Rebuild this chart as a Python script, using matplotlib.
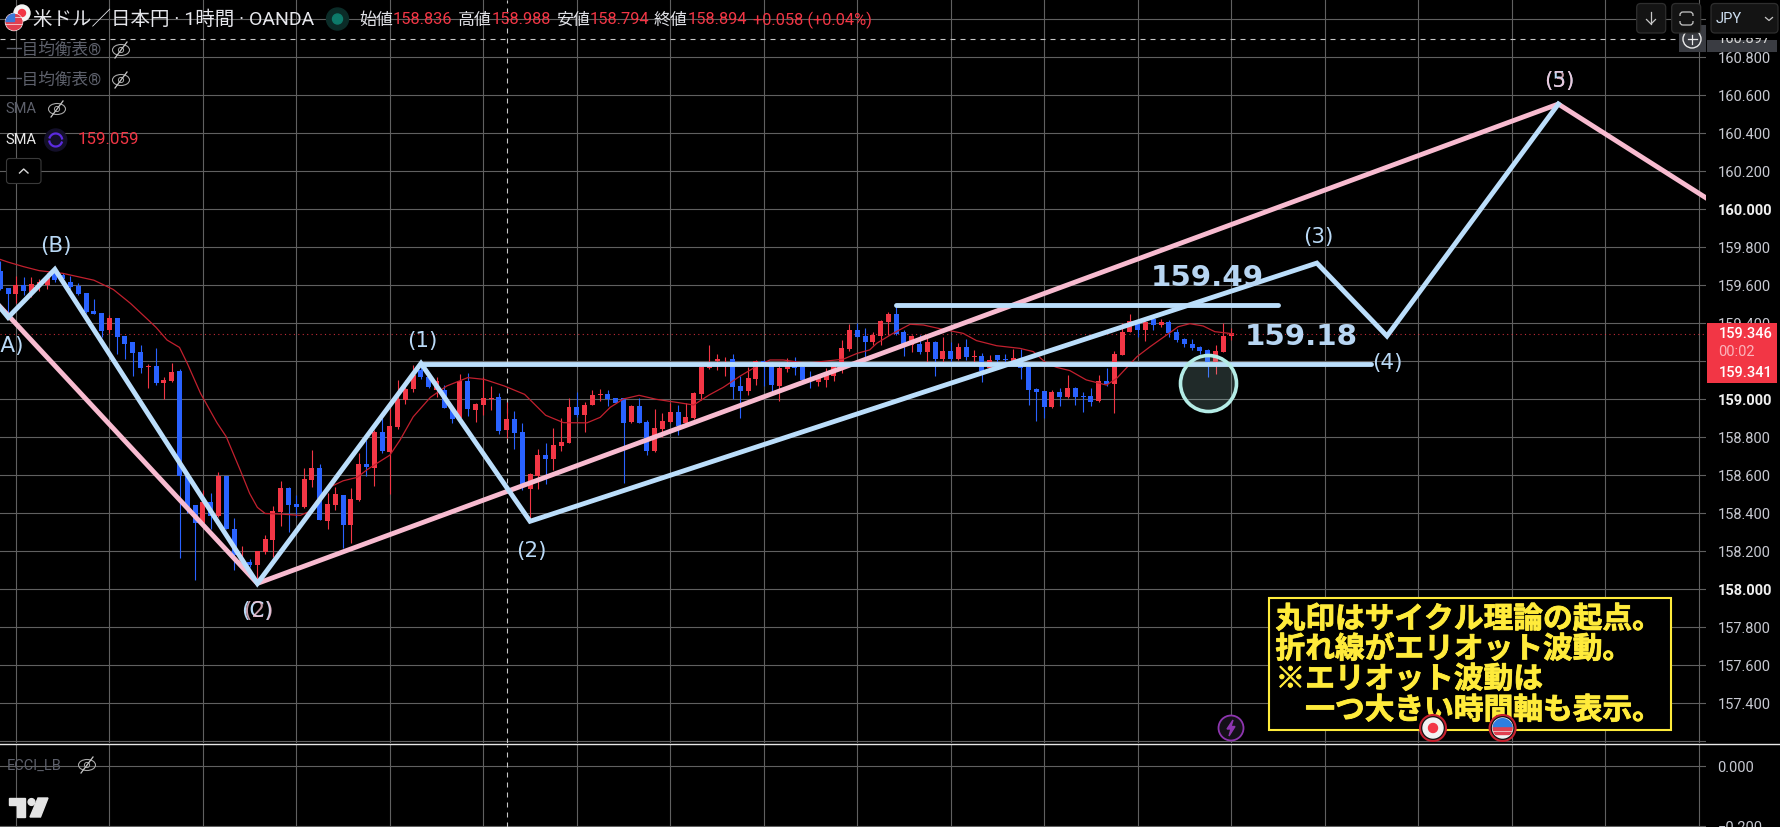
import matplotlib
matplotlib.use("Agg")
import matplotlib.pyplot as plt
import matplotlib.patheffects as pe
import numpy as np
from matplotlib.patches import Rectangle, Circle, Ellipse, FancyBboxPatch, Polygon

# ---------- DATA ----------
highs = [159.729,159.585,159.649,159.645,159.645,159.631,159.663,159.680,159.663,159.649,
 159.610,159.561,159.526,159.456,159.443,159.426,159.333,159.301,159.284,159.185,
 159.268,159.115,159.189,159.157,158.598,158.443,158.522,158.505,158.615,158.598,
 158.373,158.227,158.162,158.199,158.285,158.438,158.570,158.536,158.496,158.636,
 158.733,158.662,158.508,158.540,158.496,158.531,158.715,158.785,158.838,158.899,
 158.961,159.101,159.101,159.180,159.185,159.136,159.119,159.076,158.962,159.134,
 159.137,158.979,159.116,159.070,159.032,158.988,158.939,158.874,158.614,158.739,
 158.769,158.848,158.900,159.009,159.041,158.988,159.049,159.053,159.049,159.009,
 159.005,158.970,159.005,158.891,158.949,158.926,158.979,158.970,158.979,159.039,
 159.176,159.286,159.239,159.225,159.239,159.123,159.172,159.207,159.207,159.198,
 159.181,159.219,159.225,159.176,159.149,159.133,159.163,159.181,159.312,159.397,
 159.400,159.374,159.356,159.417,159.460,159.491,159.365,159.339,159.339,159.330,
 159.307,159.330,159.303,159.295,159.317,159.260,159.242,159.233,159.235,159.238,
 159.265,159.265,159.175,159.058,159.044,159.049,159.060,159.128,159.065,159.039,
 159.060,159.128,159.165,159.254,159.400,159.449,159.417,159.410,159.435,159.423,
 159.417,159.368,159.323,159.317,159.281,159.263,159.286,159.400,159.374]
body_tops = [159.677,159.585,159.601,159.601,159.606,159.619,159.636,159.663,159.654,159.617,
 159.598,159.557,159.464,159.452,159.426,159.426,159.333,159.301,159.248,159.175,
 159.175,159.101,159.143,159.149,158.598,158.443,158.461,158.461,158.598,158.598,
 158.320,158.154,158.145,158.199,158.264,158.412,158.533,158.533,158.449,158.580,
 158.641,158.641,158.449,158.501,158.496,158.473,158.662,158.662,158.826,158.826,
 158.859,158.999,159.052,159.127,159.154,159.119,159.097,159.049,158.944,159.097,
 159.097,158.976,159.007,159.007,159.012,158.894,158.897,158.828,158.607,158.707,
 158.707,158.760,158.776,158.960,158.960,158.969,159.021,159.027,159.027,159.005,
 159.005,158.965,158.965,158.881,158.848,158.886,158.934,158.934,158.907,159.034,
 159.170,159.181,159.212,159.214,159.212,159.070,159.112,159.202,159.202,159.181,
 159.165,159.181,159.181,159.170,159.105,159.111,159.128,159.177,159.270,159.365,
 159.365,159.333,159.339,159.412,159.449,159.449,159.354,159.333,159.291,159.302,
 159.302,159.254,159.254,159.275,159.275,159.228,159.228,159.207,159.233,159.210,
 159.217,159.207,159.170,159.054,159.044,159.039,159.039,159.060,159.060,159.017,
 159.017,159.096,159.096,159.238,159.354,159.412,159.409,159.407,159.421,159.407,
 159.407,159.354,159.317,159.291,159.275,159.260,159.254,159.333,159.349]
body_bottoms = [159.578,159.554,159.554,159.570,159.566,159.601,159.601,159.627,159.631,159.592,
 159.554,159.459,159.450,159.359,159.364,159.329,159.291,159.245,159.166,159.170,
 159.084,159.087,159.096,158.598,158.434,158.347,158.350,158.385,158.385,158.315,
 158.180,158.127,158.127,158.127,158.196,158.259,158.408,158.443,158.434,158.434,
 158.575,158.364,158.359,158.443,158.338,158.338,158.470,158.645,158.640,158.727,
 158.724,158.852,158.996,159.054,159.115,159.066,159.049,158.956,158.897,158.900,
 158.949,158.944,158.970,159.002,158.835,158.836,158.825,158.541,158.528,158.598,
 158.686,158.686,158.755,158.770,158.918,158.918,158.970,159.021,159.002,158.979,
 158.876,158.881,158.876,158.728,158.728,158.842,158.881,158.860,158.874,158.902,
 159.028,159.165,159.200,159.211,159.065,159.044,159.044,159.107,159.181,159.076,
 159.070,159.160,159.165,159.102,159.100,159.091,159.102,159.123,159.181,159.265,
 159.330,159.302,159.302,159.333,159.407,159.344,159.281,159.286,159.249,159.249,
 159.212,159.212,159.212,159.212,159.223,159.223,159.151,159.163,159.207,159.205,
 159.198,159.165,159.049,159.039,158.960,158.960,159.012,159.012,159.012,159.012,
 158.986,158.991,159.081,159.081,159.233,159.356,159.365,159.365,159.391,159.391,
 159.347,159.312,159.291,159.270,159.254,159.196,159.196,159.249,159.333]
lows = [159.575,159.449,159.505,159.549,159.540,159.571,159.578,159.619,159.624,159.575,
 159.549,159.452,159.449,159.329,159.347,159.236,159.212,159.124,159.136,159.061,
 159.073,159.001,159.092,158.166,158.399,158.048,158.347,158.320,158.382,158.315,
 158.101,158.110,158.119,158.040,158.185,158.171,158.333,158.303,158.382,158.426,
 158.540,158.364,158.320,158.417,158.215,158.245,158.466,158.598,158.543,158.720,
 158.501,158.843,158.975,159.040,159.105,159.062,159.014,158.956,158.877,158.897,
 158.914,158.879,158.918,158.944,158.818,158.794,158.739,158.523,158.374,158.528,
 158.555,158.628,158.730,158.769,158.909,158.830,158.969,158.993,158.965,158.979,
 158.562,158.874,158.874,158.707,158.723,158.804,158.877,158.812,158.865,158.898,
 158.997,159.160,159.155,159.123,159.000,158.902,159.023,159.076,159.070,159.041,
 158.993,159.144,159.128,159.098,159.060,159.070,159.065,159.097,159.137,159.255,
 159.326,159.216,159.286,159.286,159.339,159.339,159.228,159.249,159.238,159.198,
 159.123,159.198,159.198,159.207,159.207,159.175,159.093,159.158,159.189,159.175,
 159.189,159.107,158.970,158.888,158.902,158.953,158.965,159.007,158.970,158.933,
 158.965,158.986,159.070,158.928,159.233,159.353,159.326,159.307,159.365,159.381,
 159.330,159.302,159.277,159.260,159.238,159.117,159.133,159.249,159.312]
directions = ("BBRBRRRBBB" "BBBBRBBBBR" "BRRBBBRBRB" "BRBRRRRBBR" "RBRRBRRBRB"
              "RRRRBBRBBR" "BRRRBRBBRR" "BRRRBRRRBB" "BRBBRRRBRR" "RRRRBBRRBB"
              "RRBBBRRRRR" "BBRRRBBRBR" "BRBRBRBRBB" "RBBBBRBRBB" "BRBRRRBRBR"
              "BBBBBBRRR")

sma_index = [0,1,3,5,8,10,12,14.5,16.7,19,20,21.4,23,24,25.7,27.8,29,30.8,32,33,34,36,38.5,39.6,41,
 42.4,44,45.8,47,48.3,50,51.3,53,55.2,57.3,60,62.1,64.7,67.3,70,72.3,75.3,77,78.3,80,82,84.2,86.8,
 89,91,92.8,95,97,98.8,100.5,102.2,103.5,108.2,110,111.6,112.5,114.6,116.8,118.5,121,123.6,125.3,
 127.9,130.9,132.6,134.3,135.6,137.3,139.4,142,143.3,145.9,147.6,149.7,151.2,152.7,154.4,155.9,157.8,158.3]
sma_price = [159.736,159.722,159.698,159.677,159.663,159.645,159.627,159.578,159.505,159.417,159.378,
 159.312,159.273,159.189,159.031,158.877,158.803,158.627,158.505,158.431,158.399,158.396,158.389,
 158.408,158.487,158.540,158.571,158.589,158.627,158.662,158.706,158.785,158.908,159.010,159.070,
 159.114,159.105,159.070,159.026,158.916,158.877,158.876,158.905,158.958,159.002,159.021,159.000,
 158.984,158.970,159.023,159.063,159.123,159.172,159.207,159.207,159.197,159.190,159.211,159.242,
 159.260,159.295,159.347,159.395,159.391,159.368,159.347,159.309,159.282,159.268,159.251,159.189,
 159.168,159.151,159.102,159.075,159.110,159.224,159.277,159.338,159.382,159.398,159.386,159.356,
 159.347,159.342]

blue_wave_index = [-1, 1, 7, 33, 54, 68, 169, 178, 200]
blue_wave_price = [159.531, 159.431, 159.684, 158.031, 159.189, 158.358, 159.717, 159.333, 160.554]
pink_wave_index = [-1, 33, 200, 219]
pink_wave_price = [159.53, 158.031, 160.554, 160.059]

level_159_18 = 159.188
level_159_18_span = [54, 176]
level_159_49 = 159.496
level_159_49_span = [115, 164]
circle_index = 155
circle_price = 159.085

blue_labels = ["(A)", "(B)", "(C)", "(1)", "(2)", "(3)", "(4)", "(5)"]
pink_labels = ["(2)", "(3)"]
price_ticks = [157.2,157.4,157.6,157.8,158.0,158.2,158.4,158.6,158.8,159.0,159.2,159.4,
               159.6,159.8,160.0,160.2,160.4,160.6,160.8,161.0]
lower_ticks = [0.0, -0.2]
last_price = 159.346
crosshair_price = 160.897
crosshair_index = 65
note_lines = ["丸印はサイクル理論の起点。", "折れ線がエリオット波動。", "※エリオット波動は", "　一つ大きい時間軸も表示。"]

# ---------- STYLE ----------
W, H = 1780, 827
PX = 0.72
RED, BLUE = "#f23645", "#2962ff"
LBLUE, LPINK = "#bbdefb", "#f8bbd0"
GRID = "#606060"
CJK = ["Noto Sans CJK JP", "DejaVu Sans"]
plt.rcParams["font.family"] = ["Roboto", "Noto Sans CJK JP", "DejaVu Sans"]
STEP, X0 = 7.79, 0.33
XLIM = (-X0 / STEP, (1706 - X0) / STEP)

fig = plt.figure(figsize=(W / 100, H / 100), dpi=100, facecolor="black")
ax = fig.add_axes([0, 1 - 743 / H, 1706 / W, 743 / H], facecolor="black")
low = fig.add_axes([0, 0, 1706 / W, (H - 745) / H], facecolor="black")
ov = fig.add_axes([0, 0, 1, 1], facecolor="none", zorder=10)
ov.set_xlim(0, W); ov.set_ylim(H, 0); ov.axis("off")

vgrid = np.arange(2, 220, 12)
for a in (ax, low):
    a.set_xlim(*XLIM)
    a.set_xticks(vgrid)
    a.tick_params(axis="x", length=0, labelbottom=False)
    a.grid(True, color=GRID, lw=0.8, zorder=0)
    a.set_axisbelow(True)
    for s in a.spines.values():
        s.set_visible(False)
    a.yaxis.tick_right()
    a.tick_params(axis="y", length=0, pad=8.2, labelsize=10.5, labelcolor="#c8cad2")

ax.set_ylim(160 - (743 - 209.3) / 190, 160 + 209.3 / 190)
ax.set_yticks(price_ticks)
ax.set_yticklabels(["" if p in (157.2, 161.0) else f"{p:.3f}" for p in price_ticks])
for p, lab in zip(price_ticks, ax.get_yticklabels()):
    if abs(p - round(p)) < 1e-6:
        lab.set_fontweight("bold"); lab.set_color("#f0f0f0")

low.set_ylim(-0.2033, 0.07)
low.set_yticks(lower_ticks)
low.set_yticklabels(["0.000", "−0.200"])

# candles
idx = np.arange(len(highs))
up = np.array([d == "R" for d in directions])
cols = [RED if u else BLUE for u in up]
ax.vlines(idx, lows, highs, colors=cols, lw=0.8, zorder=2)
ax.bar(idx, np.array(body_tops) - np.array(body_bottoms), bottom=body_bottoms, width=0.64,
       color=cols, zorder=2.1, linewidth=0)
ax.plot(sma_index, sma_price, color="#c2202e", lw=0.9, zorder=3)

# price and crosshair lines
ax.axhline(last_price, color=RED, lw=0.8, ls=(0, (1, 3)), alpha=0.8, zorder=1.5)
ax.axhline(crosshair_price, color="#c8c8c8", lw=0.8, ls=(0, (4.5, 4.5)), zorder=1.5)
for a in (ax, low):
    a.axvline(crosshair_index, color="#c8c8c8", lw=0.8, ls=(0, (4.5, 4.5)), zorder=1.5)

# waves
LW = 3.5
ax.plot(pink_wave_index, pink_wave_price, color=LPINK, lw=LW, solid_joinstyle="miter", zorder=4)
ax.plot(blue_wave_index, blue_wave_price, color=LBLUE, lw=LW, solid_joinstyle="miter", zorder=4.2)
ax.plot(level_159_18_span, [level_159_18] * 2, color=LBLUE, lw=LW, solid_capstyle="round", zorder=4.3)
ax.plot(level_159_49_span, [level_159_49] * 2, color=LBLUE, lw=LW, solid_capstyle="round", zorder=4.3)
ax.scatter([circle_index], [circle_price], s=1625, facecolor=(0.70, 0.92, 0.90, 0.18),
           edgecolor="#b4ece6", linewidth=2.6, zorder=5)

label_font = dict(ha="center", va="center", fontsize=15.5, family="DejaVu Sans", zorder=6)
offsets = [(0, -29), (1, 23), (0, -28), (1, 22), (1, -30), (1, 26), (0, -27), (1, 23)]
for lab, i, p, (dx, dy) in zip(blue_labels, blue_wave_index[1:], blue_wave_price[1:], offsets):
    ax.annotate(lab, (i, p), xytext=(dx * PX, dy * PX), textcoords="offset points",
                color="#b9d9f6", annotation_clip=False, **label_font)
for lab, i, p, dy in zip(pink_labels, pink_wave_index[1:3], pink_wave_price[1:3], (-28, 23)):
    ax.annotate(lab, (i, p), xytext=(0.5 * PX, dy * PX), textcoords="offset points",
                color="#f6c4d6", alpha=0.8, **label_font)
ax.text(155, level_159_49 + 0.14, f"{level_159_49 - 0.006:.2f}", color="#b7d5f2", fontsize=21.2,
        fontweight="bold", family="DejaVu Sans", ha="center", va="center", zorder=6)
ax.text(167, level_159_18 + 0.14, f"{level_159_18 - 0.008:.2f}", color="#b7d5f2", fontsize=21.2,
        fontweight="bold", family="DejaVu Sans", ha="center", va="center", zorder=6)

# ---------- CHROME (in pixels) ----------
def T(x, y, s, size=11, color="#d1d4dc", ha="left", family=None, **kw):
    return ov.text(x, y, s, fontsize=size, color=color, ha=ha, va="center",
                   family=family or plt.rcParams["font.family"], **kw)

def eye(x, y):
    ov.add_patch(Ellipse((x, y), 17, 11, fill=False, ec="#a8a8a8", lw=0.8))
    ov.add_patch(Circle((x, y), 2.6, fill=False, ec="#a8a8a8", lw=0.7))
    ov.plot([x - 6, x + 6], [y + 8, y - 8], color="#c8c8c8", lw=0.9)

# separator
ov.plot([0, W], [744, 744], color="#e8e8e8", lw=1.0)

# header
T(33, 19.5, "米ドル／日本円 · 1時間 · OANDA", size=14, color="#e6e7ec")
ov.add_patch(Circle((337.5, 19), 11, color="#0b2c28"))
ov.add_patch(Circle((337.5, 19), 5, color="#0d7a6a"))
for x, s in [(359, "始値"), (457.5, "高値"), (555.7, "安値"), (654, "終値")]:
    T(x, 20, s, size=12.2, color="#e0e1e6")
for x, s in [(393, "158.836"), (492, "158.988"), (590, "158.794"), (688, "158.894"),
             (752.6, "+0.058 (+0.04%)")]:
    T(x, 20, s, size=11.8, color=RED)

# flags, top left
ov.add_patch(Circle((22, 13), 8, color="#f5f5f5"))
ov.add_patch(Circle((22, 13), 3.5, color=RED))
c = Circle((14, 22), 8.5, color="white"); ov.add_patch(c)
for k in range(5):
    r = Rectangle((5, 14 + k * 3.6), 18, 1.9, color="#e04050"); ov.add_patch(r); r.set_clip_path(c)
r = Rectangle((5, 13), 9, 8, color="#3b78d8"); ov.add_patch(r); r.set_clip_path(c)

# legend rows
T(5.7, 50, "一目均衡表®", size=12, color="#5d606b")
T(5.7, 80, "一目均衡表®", size=12, color="#5d606b")
T(5.7, 109, "SMA", size=10.5, color="#5d606b")
T(5.7, 140, "SMA", size=10.5, color="#e8e8e8")
T(78, 140, "159.059", size=12.2, color=RED)
eye(121, 50); eye(121, 80); eye(57, 109)
ov.add_patch(Circle((55.7, 140), 11, color="#14102a"))
t = np.linspace(0.4, 2.9, 30)
ov.plot(55.7 + 6.5 * np.cos(t), 140 + 6.5 * np.sin(t), color="#5b2be0", lw=1.6)
ov.plot(55.7 + 6.5 * np.cos(t + np.pi), 140 + 6.5 * np.sin(t + np.pi), color="#5b2be0", lw=1.6)
ov.add_patch(FancyBboxPatch((6.5, 158.5), 34.5, 25, boxstyle="round,pad=0,rounding_size=3",
                            fc="black", ec="#3a3a3a", lw=0.8))
ov.plot([19.5, 23.7, 28], [173, 169, 173], color="#d8d8d8", lw=1.0)

# lower pane text
T(6.5, 765.5, "ECCI_LB", size=10.5, color="#5d606b")
eye(87, 765)
ov.add_patch(Polygon([(9, 798), (25, 798), (25, 817), (17, 817), (17, 805), (9, 805)], color="#e4e4e4"))
ov.add_patch(Circle((31.5, 802), 3.4, color="#e4e4e4"))
ov.add_patch(Polygon([(38, 798), (48, 798), (40.5, 817), (30, 817)], color="#e4e4e4"))

# right-hand price box
ov.add_patch(Rectangle((1707, 323), 69.7, 59.7, color=RED, lw=0))
T(1718.5, 334, "159.346", size=10.5, color="white", fontweight="medium")
T(1718, 352, "00:02", size=10.5, color="#fbb4bb")
T(1718.5, 373, "159.341", size=10.5, color="white", fontweight="medium")

# crosshair price and plus button
ov.add_patch(Rectangle((1707, 40), 69.7, 11.7, color="#3a3c42", lw=0))
clip = Rectangle((1707, 37.5), 70, 16, transform=ov.transData, fill=False, lw=0)
ov.add_patch(clip)
lab = T(1718, 38.7, "160.897", size=10.5, color="#d8d8d8")
lab.set_clip_on(True)
lab.set_clip_path(clip)
ov.add_patch(Rectangle((1679, 25), 27, 26.7, color="#3a3c42", lw=0))
ov.add_patch(Circle((1692, 39), 9, fc="#3a3c42", ec="#eaeaea", lw=1.0))
ov.plot([1687.5, 1696.5], [39, 39], color="#eaeaea", lw=0.9)
ov.plot([1692, 1692], [34.5, 43.5], color="#eaeaea", lw=0.9)

# top-right buttons
for x0, x1 in [(1636.7, 1665.7), (1671.7, 1700.7), (1711, 1778)]:
    ov.add_patch(FancyBboxPatch((x0, 3.5), x1 - x0, 29.5, boxstyle="round,pad=0,rounding_size=4",
                                fc="#141414", ec="#2e2e2e", lw=0.9))
ov.plot([1651, 1651], [12, 24], color="#c8c8c8", lw=0.9)
ov.plot([1646.5, 1651, 1655.5], [19.5, 24, 19.5], color="#c8c8c8", lw=0.9)
ov.add_patch(FancyBboxPatch((1680, 12), 13, 13, boxstyle="round,pad=0,rounding_size=3",
                            fill=False, ec="#c8c8c8", lw=0.9))
ov.add_patch(Rectangle((1678, 16), 17, 5, color="#141414", lw=0))
T(1716, 19, "JPY", size=10.5, color="#cfe0f2")
ov.plot([1765.5, 1769, 1772.5], [17.5, 20.5, 17.5], color="#c8c8c8", lw=0.9)

# note box
ov.add_patch(Rectangle((1269, 598), 402, 132, fc="black", ec="#ffeb3b", lw=1.5, zorder=5))
for y, line in zip((619, 649, 679, 710), note_lines):
    T(1275.5, y, line, size=21.4, color="#ffeb3b", family=CJK, fontweight="bold", zorder=5.5,
      path_effects=[pe.withStroke(linewidth=0.6, foreground="#ffeb3b")])

# event icons
ov.add_patch(Circle((1231, 728), 12.5, fc="#141018", ec="#8e35b0", lw=1.3, zorder=6))
ov.add_patch(Polygon([(1233, 720), (1227, 729), (1231, 729), (1229, 736), (1235, 726.5), (1231, 726.5)],
                     color="#8e35b0", zorder=6.1))
ov.add_patch(Circle((1433, 728), 13, fc="#101010", ec="#c8202e", lw=1.5, zorder=6))
ov.add_patch(Circle((1433, 728), 10, color="#f2f2f2", zorder=6.1))
ov.add_patch(Circle((1433, 728), 4.5, color=RED, zorder=6.2))
ov.add_patch(Circle((1502.6, 728), 13, fc="#101010", ec="#c8202e", lw=1.5, zorder=6))
us = Circle((1502.6, 728), 10, color="#f2f2f2", zorder=6.1); ov.add_patch(us)
for k in range(3):
    r = Rectangle((1492, 723 + 4.4 * k), 21, 2.2, color="#e04050", zorder=6.2); ov.add_patch(r); r.set_clip_path(us)
r = Rectangle((1492, 717), 21, 9, color="#2f7fe0", zorder=6.3); ov.add_patch(r); r.set_clip_path(us)

fig.savefig("out.png", dpi=100, facecolor="black")
